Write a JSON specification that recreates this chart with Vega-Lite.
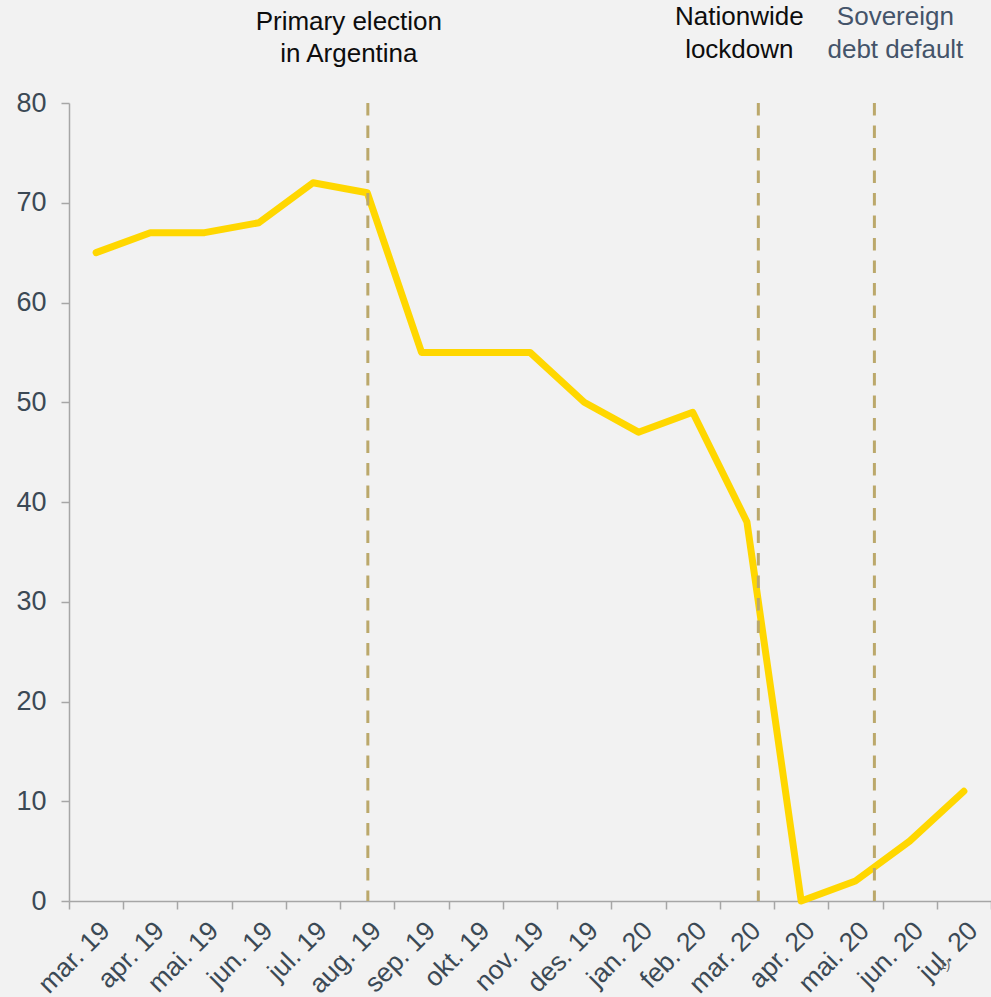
{
  "$schema": "https://vega.github.io/schema/vega-lite/v6.json",
  "width": 922,
  "height": 798,
  "autosize": {"type": "none"},
  "padding": {"left": 69, "top": 103, "right": 0, "bottom": 96},
  "background": "#f2f2f2",
  "config": {
    "view": {"stroke": null},
    "font": "Liberation Sans",
    "axis": {"grid": false, "domainColor": "#a6a6a6", "domainWidth": 1.5, "tickColor": "#a6a6a6", "tickWidth": 1.5, "tickSize": 8, "labelFont": "Liberation Sans", "labelColor": "#3b4955"}
  },
  "layer": [
    {
      "data": {"values": [
        {"month": "mar. 19", "value": 65},
        {"month": "apr. 19", "value": 67},
        {"month": "mai. 19", "value": 67},
        {"month": "jun. 19", "value": 68},
        {"month": "jul. 19", "value": 72},
        {"month": "aug. 19", "value": 71},
        {"month": "sep. 19", "value": 55},
        {"month": "okt. 19", "value": 55},
        {"month": "nov. 19", "value": 55},
        {"month": "des. 19", "value": 50},
        {"month": "jan. 20", "value": 47},
        {"month": "feb. 20", "value": 49},
        {"month": "mar. 20", "value": 38},
        {"month": "apr. 20", "value": 0},
        {"month": "mai. 20", "value": 2},
        {"month": "jun. 20", "value": 6},
        {"month": "jul. 20", "value": 11}
      ]},
      "mark": {"type": "line", "color": "#FFD700", "strokeWidth": 7, "strokeCap": "round", "strokeJoin": "round"},
      "encoding": {
        "x": {"field": "month", "type": "ordinal", "sort": null,
          "scale": {"domain": ["mar. 19","apr. 19","mai. 19","jun. 19","jul. 19","aug. 19","sep. 19","okt. 19","nov. 19","des. 19","jan. 20","feb. 20","mar. 20","apr. 20","mai. 20","jun. 20","jul. 20"], "paddingInner": 0, "paddingOuter": 0},
          "axis": {"title": null, "labelAngle": -45, "labelAlign": "right", "labelBaseline": "top", "labelFontSize": 26.5, "labelPadding": 8, "labelOverlap": false, "tickBand": "extent"}},
        "y": {"field": "value", "type": "quantitative",
          "scale": {"domain": [0, 80], "nice": false, "zero": true},
          "axis": {"title": null, "values": [0,10,20,30,40,50,60,70,80], "labelFontSize": 27, "labelPadding": 15}}
      }
    },
    {
      "data": {"values": [{"month": "aug. 19", "event": "Primary election\nin Argentina"}]},
      "encoding": {"x": {"field": "month", "type": "ordinal", "bandPosition": 0.51}},
      "layer": [
        {"mark": {"type": "rule", "color": "#bba86b", "strokeWidth": 3, "strokeDash": [12.5, 10]},
         "encoding": {"y": {"datum": 80}, "y2": {"datum": 0}}},
        {"mark": {"type": "text", "fontSize": 26, "color": "#0d0d0d", "align": "center", "baseline": "alphabetic", "lineBreak": "\n", "lineHeight": 32, "dx": -19},
         "encoding": {"text": {"field": "event"}, "y": {"datum": 87.3}}}
      ]
    },
    {
      "data": {"values": [{"month": "mar. 20", "event": "Nationwide\nlockdown"}]},
      "encoding": {"x": {"field": "month", "type": "ordinal", "bandPosition": 0.71}},
      "layer": [
        {"mark": {"type": "rule", "color": "#bba86b", "strokeWidth": 3, "strokeDash": [12.5, 10]},
         "encoding": {"y": {"datum": 80}, "y2": {"datum": 0}}},
        {"mark": {"type": "text", "fontSize": 26, "color": "#0d0d0d", "align": "center", "baseline": "alphabetic", "lineBreak": "\n", "lineHeight": 33, "dx": -19},
         "encoding": {"text": {"field": "event"}, "y": {"datum": 87.8}}}
      ]
    },
    {
      "data": {"values": [{"month": "mai. 20", "event": "Sovereign\ndebt default"}]},
      "encoding": {"x": {"field": "month", "type": "ordinal", "bandPosition": 0.85}},
      "layer": [
        {"mark": {"type": "rule", "color": "#bba86b", "strokeWidth": 3, "strokeDash": [12.5, 10]},
         "encoding": {"y": {"datum": 80}, "y2": {"datum": 0}}},
        {"mark": {"type": "text", "fontSize": 26, "color": "#44546a", "align": "center", "baseline": "alphabetic", "lineBreak": "\n", "lineHeight": 33, "dx": 21},
         "encoding": {"text": {"field": "event"}, "y": {"datum": 87.8}}}
      ]
    },
    {
      "data": {"values": [{"month": "jul. 20", "note": "1)"}]},
      "mark": {"type": "text", "fontSize": 12, "color": "#595959", "align": "center", "baseline": "alphabetic", "dx": -19},
      "encoding": {"x": {"field": "month", "type": "ordinal"}, "y": {"datum": -6.8}, "text": {"field": "note"}}
    }
  ]
}
